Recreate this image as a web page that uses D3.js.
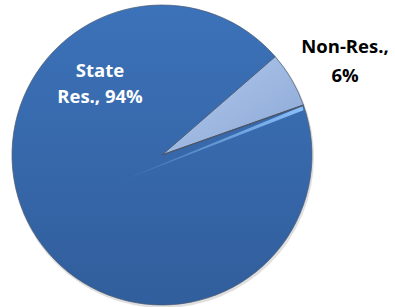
<!DOCTYPE html>
<html>
<head>
<meta charset="utf-8">
<script src="https://cdn.jsdelivr.net/npm/d3@7"></script>
<style>
  body { margin: 0; background: #fff; }
  svg { display: block; }
</style>
</head>
<body>
<div id="chart"></div>
<script>
// data
const labels = ["Non-Res.", "State Res."];
const values = [6, 94];

const w = 395;
const h = 307;
const cx = 162;
const cy = 155;
const radius = 150;

// where the small slice begins (degrees clockwise from 12 o'clock)
const start = 49 * Math.PI / 180;

const svg = d3.select("#chart")
  .append("svg")
  .attr("width", w)
  .attr("height", h);

const defs = svg.append("defs");

const g1 = defs.append("linearGradient")
  .attr("id", "big")
  .attr("x1", 0).attr("y1", 0).attr("x2", 0).attr("y2", 1);
g1.append("stop").attr("offset", "0%").attr("stop-color", "#3c72b9");
g1.append("stop").attr("offset", "100%").attr("stop-color", "#315e9c");

const g2 = defs.append("linearGradient")
  .attr("id", "small")
  .attr("x1", 0).attr("y1", 0).attr("x2", 1).attr("y2", 1);
g2.append("stop").attr("offset", "0%").attr("stop-color", "#b2cbef");
g2.append("stop").attr("offset", "100%").attr("stop-color", "#8aa6d3");

const g3 = defs.append("linearGradient")
  .attr("id", "shine")
  .attr("x1", 1).attr("y1", 0).attr("x2", 0).attr("y2", 1);
g3.append("stop").attr("offset", "0%").attr("stop-color", "#8cc0f8").attr("stop-opacity", 1);
g3.append("stop").attr("offset", "100%").attr("stop-color", "#8cc0f8").attr("stop-opacity", 0);

const pie = d3.pie()
  .sort(null)
  .value(d => d)
  .startAngle(start)
  .endAngle(start + 2 * Math.PI);

const arc = d3.arc()
  .innerRadius(0)
  .outerRadius(radius);

const arcs = pie(values);

const chart = svg.append("g")
  .attr("transform", `translate(${cx}, ${cy})`);

// soft shadow under the disc
chart.append("circle")
  .attr("cx", 1)
  .attr("cy", 2)
  .attr("r", radius + 1)
  .attr("fill", "#c9c9c9")
  .attr("opacity", 0.6);

chart.selectAll("path.slice")
  .data(arcs)
  .enter()
  .append("path")
    .attr("class", "slice")
    .attr("d", arc)
    .attr("fill", (d, i) => i === 0 ? "url(#small)" : "url(#big)")
    .attr("stroke", "#4a5a70")
    .attr("stroke-width", 0.7);

// bevel highlight along the lower edge of the small slice
const edge = arcs[0].endAngle;
const ox = radius * Math.sin(edge);
const oy = -radius * Math.cos(edge);
const back = radius * 0.36;
chart.append("polygon")
  .attr("points", [
    [ox - 1, oy + 1],
    [ox, oy + 5],
    [-back * Math.sin(edge), back * Math.cos(edge) + 12]
  ].map(p => p.join(",")).join(" "))
  .attr("fill", "url(#shine)");

chart.append("line")
  .attr("x1", 0)
  .attr("y1", 0)
  .attr("x2", ox)
  .attr("y2", oy)
  .attr("stroke", "#4d5566")
  .attr("stroke-width", 1.2);

// labels
const font = "'Open Sans', 'Liberation Sans', sans-serif";

svg.append("text")
  .attr("x", 100)
  .attr("y", 77)
  .attr("text-anchor", "middle")
  .attr("font-family", font)
  .attr("font-weight", "bold")
  .attr("font-size", 18.5)
  .attr("fill", "#fff")
  .selectAll("tspan")
  .data(["State", "Res., " + values[1] + "%"])
  .enter()
  .append("tspan")
    .attr("x", 100)
    .attr("dy", (d, i) => i === 0 ? 0 : 26)
    .text(d => d);

svg.append("text")
  .attr("x", 345)
  .attr("y", 53)
  .attr("text-anchor", "middle")
  .attr("font-family", font)
  .attr("font-weight", "bold")
  .attr("font-size", 18.5)
  .attr("fill", "#000")
  .selectAll("tspan")
  .data([labels[0] + ",", values[0] + "%"])
  .enter()
  .append("tspan")
    .attr("x", 345)
    .attr("dy", (d, i) => i === 0 ? 0 : 29)
    .text(d => d);
</script>
</body>
</html>
